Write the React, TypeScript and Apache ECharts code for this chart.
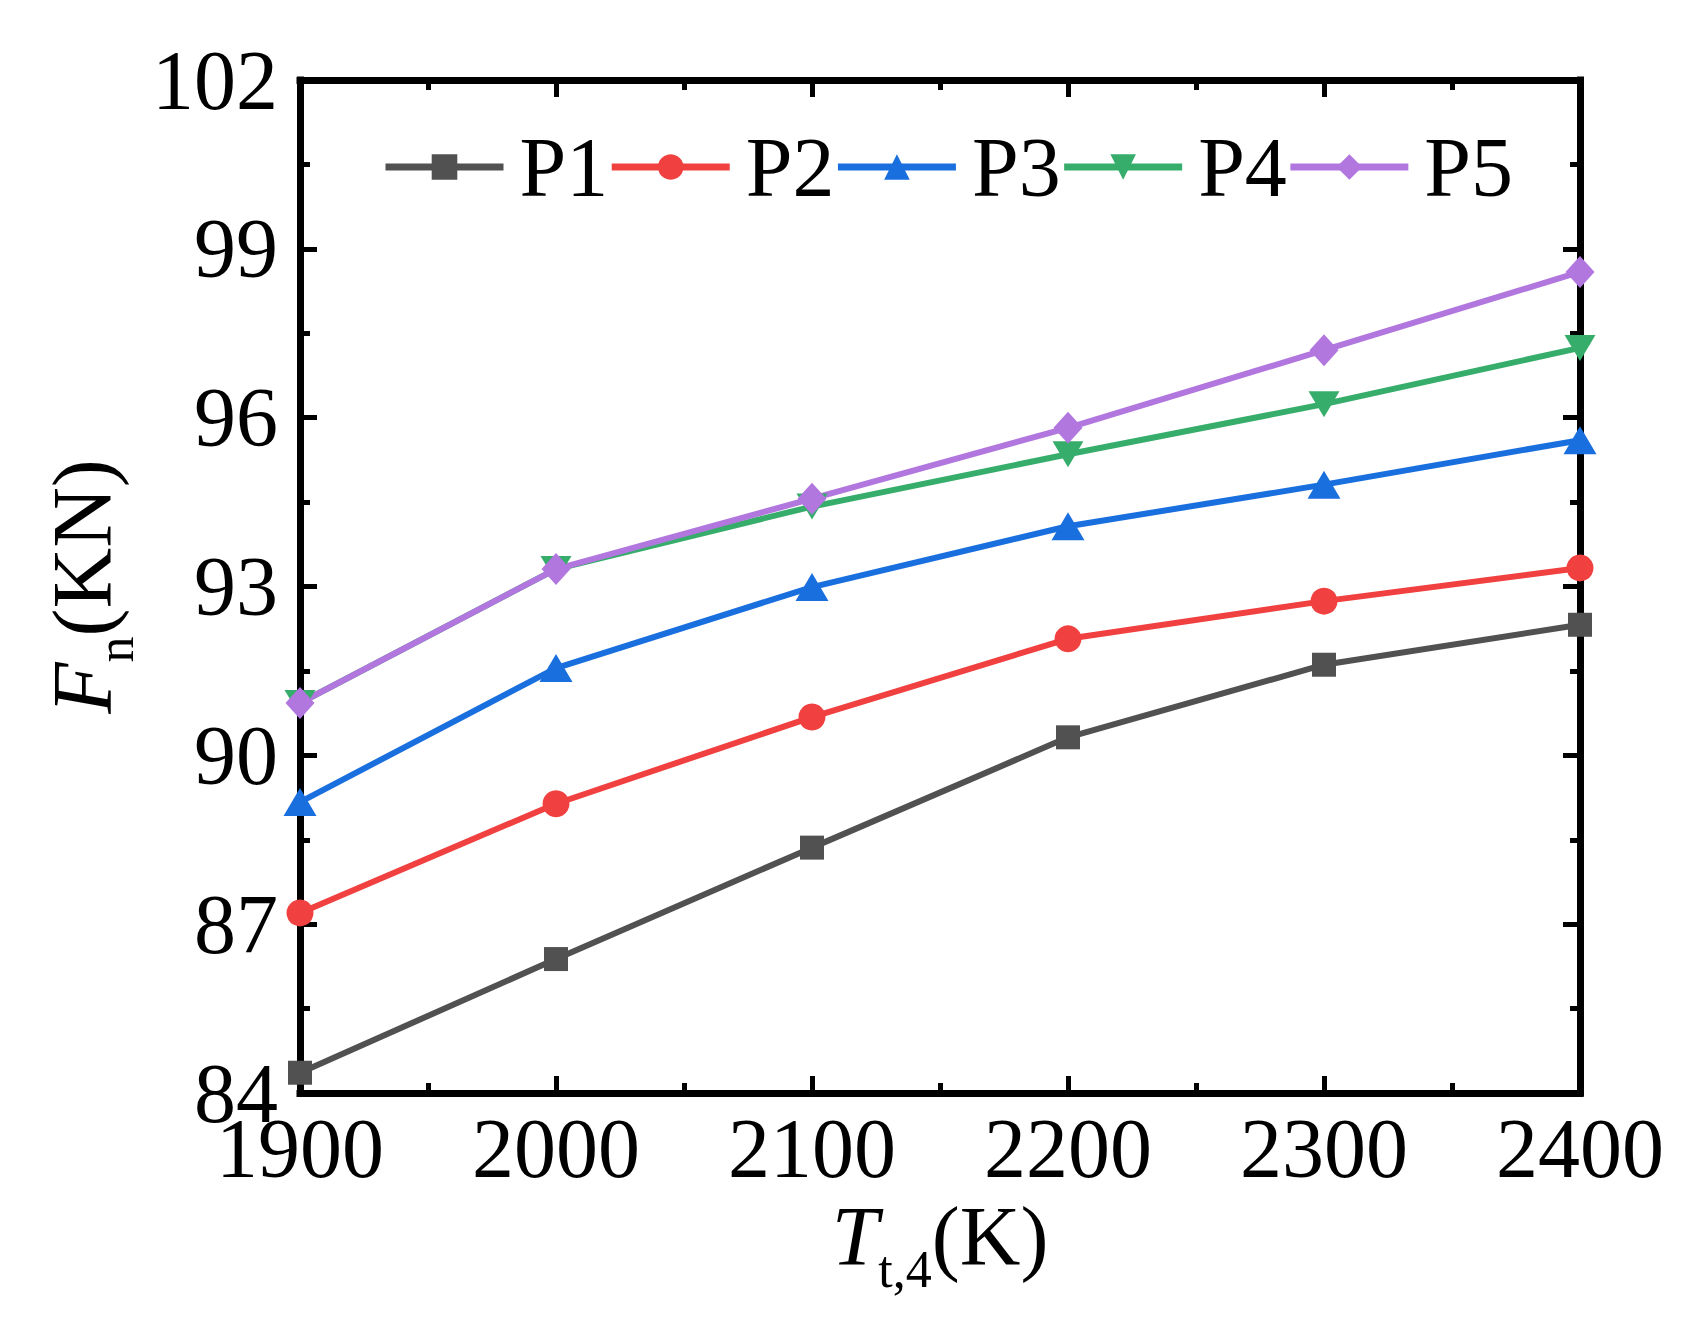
import * as echarts from 'echarts';
import { useEffect, useRef } from 'react';

const temps = [1900, 2000, 2100, 2200, 2300, 2400];
const seriesNames = ['P1', 'P2', 'P3', 'P4', 'P5'];
const p1 = [84.36, 86.38, 88.36, 90.32, 91.61, 92.32];
const p2 = [87.2, 89.14, 90.68, 92.07, 92.74, 93.33];
const p3 = [89.17, 91.55, 92.99, 94.07, 94.81, 95.6];
const p4 = [90.93, 93.31, 94.42, 95.35, 96.24, 97.24];
const p5 = [90.93, 93.31, 94.56, 95.82, 97.2, 98.59];
const colors = ['#515151', '#F14040', '#1A6FDF', '#37AD6B', '#B177DE'];

const FONT = "'Liberation Serif', 'Times New Roman', serif";

const Chart = () => {
  const chartRef = useRef(null);

  useEffect(() => {
    document.body.style.margin = '0';
    const chart = echarts.init(chartRef.current, null, { renderer: 'svg' });

    const values = [p1, p2, p3, p4, p5];
    const symbols = ['rect', 'circle', 'triangle', 'triangle', 'diamond'];
    const sizes: any[] = [24, 27, [33, 28], [31, 26], [29, 32]];
    const rotates = [0, 0, 0, 180, 0];

    // 框线 + 朝内刻度
    const frameAxis = (showLabel: boolean) => ({
      axisLine: { show: true, lineStyle: { color: '#000', width: 7, cap: 'square' } },
      axisTick: { show: true, inside: true, length: 17, lineStyle: { color: '#000', width: 5 } },
      minorTick: { show: true, splitNumber: 2, length: 10, lineStyle: { color: '#000', width: 5 } },
      splitLine: { show: false },
      axisLabel: {
        show: showLabel,
        color: '#000',
        fontFamily: FONT,
        fontSize: 84,
        formatter: (v: number) => String(v),
      },
    });

    const titleRich = {
      i: { fontFamily: FONT, fontSize: 84, fontStyle: 'italic', lineHeight: 84, verticalAlign: 'bottom', padding: [0, 0, 17, 0], color: '#000' },
      s: { fontFamily: FONT, fontSize: 52, lineHeight: 52, verticalAlign: 'bottom', color: '#000' },
      r: { fontFamily: FONT, fontSize: 84, lineHeight: 84, verticalAlign: 'bottom', padding: [0, 0, 17, 0], color: '#000' },
    };

    const xBase = frameAxis(true);
    const yBase = frameAxis(true);

    const option = {
      animation: false,
      backgroundColor: '#fff',
      grid: { left: 300, right: 108, top: 80, bottom: 227, outerBoundsMode: 'none' },
      legend: {
        data: seriesNames,
        left: 382,
        top: 125,
        padding: 0,
        itemWidth: 118,
        itemHeight: 32,
        itemGap: 0,
        lineStyle: { width: 7 },
        textStyle: { fontFamily: FONT, fontSize: 84, color: '#000', padding: [0, 0, 0, 11] },
      },
      xAxis: [
        {
          ...xBase,
          type: 'value',
          min: 1900,
          max: 2400,
          interval: 100,
          position: 'bottom',
          axisLabel: { ...xBase.axisLabel, margin: 13 },
          name: '{i|T}{s|t,4}{r|(K)}',
          nameLocation: 'middle',
          nameGap: 101,
          nameTextStyle: { rich: titleRich },
        },
        {
          ...frameAxis(false),
          type: 'value',
          min: 1900,
          max: 2400,
          interval: 100,
          position: 'top',
        },
      ],
      yAxis: [
        {
          ...yBase,
          type: 'value',
          min: 84,
          max: 102,
          interval: 3,
          position: 'left',
          axisLabel: { ...yBase.axisLabel, margin: 22 },
          name: '{i|F}{s|n}{r|(KN)}',
          nameLocation: 'middle',
          nameRotate: 90,
          nameGap: 158,
          nameTextStyle: { rich: titleRich },
        },
        {
          ...frameAxis(false),
          type: 'value',
          min: 84,
          max: 102,
          interval: 3,
          position: 'right',
        },
      ],
      series: seriesNames.map((name, k) => ({
        name,
        type: 'line',
        xAxisIndex: 0,
        yAxisIndex: 0,
        data: temps.map((t, i) => [t, values[k][i]]),
        symbol: symbols[k],
        symbolSize: sizes[k],
        symbolRotate: rotates[k],
        showAllSymbol: true,
        lineStyle: { color: colors[k], width: 6 },
        itemStyle: { color: colors[k] },
      })),
    };

    chart.setOption(option);

    const handleResize = () => chart.resize();
    window.addEventListener('resize', handleResize);

    return () => {
      window.removeEventListener('resize', handleResize);
      chart.dispose();
    };
  }, []);

  return <div ref={chartRef} style={{ width: '1688px', height: '1320px' }} />;
};

export default function App() {
  return <Chart />;
}
